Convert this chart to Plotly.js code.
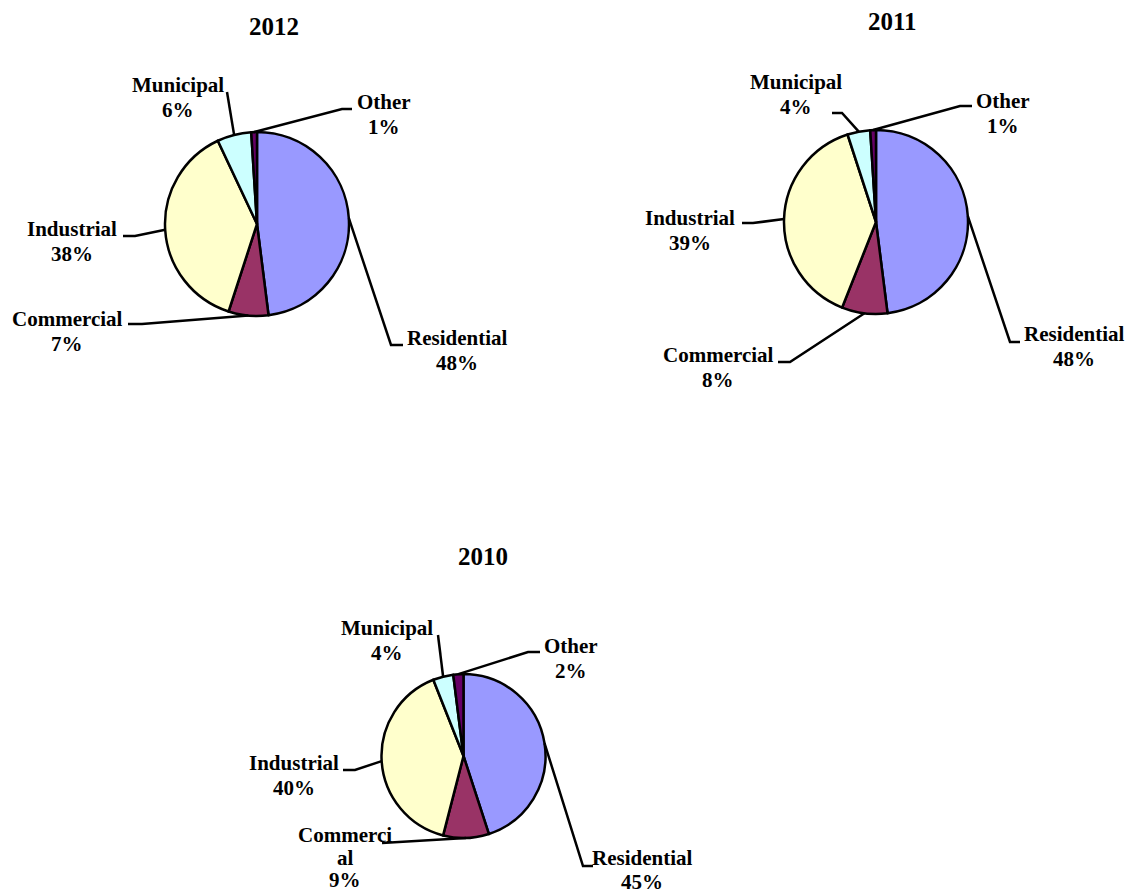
<!DOCTYPE html>
<html>
<head>
<meta charset="utf-8">
<script src="https://cdn.plot.ly/plotly-3.0.1.min.js"></script>
<style>html,body{margin:0;padding:0;background:#fff;}#chart{width:1129px;height:896px;}</style>
</head>
<body>
<div id="chart"></div>
<script>
// ---- data ----
const categories = ["Residential", "Commercial", "Industrial", "Municipal", "Other"];
const years = ["2012", "2011", "2010"];
const values2012 = [48, 7, 38, 6, 1];
const values2011 = [48, 8, 39, 4, 1];
const values2010 = [45, 9, 40, 4, 2];
const labels2010 = ["Residential", "Commerci<br>al", "Industrial", "Municipal", "Other"];
const colors = ["#9999FF", "#993366", "#FFFFCC", "#CCFFFF", "#660066"];

// ---- layout (pixel positions) ----
const W = 1129, H = 896;
const charts = [
  { year: years[0], values: values2012, names: categories,
    center: [257, 224], r: 92, titlePos: [273.5, 26.5], gaps: [25, 25, 25, 25, 25],
    labelPos: [[457, 338], [67, 319], [72, 229], [178, 85], [384, 102]],
    elbows: [[[403, 345], [391, 345]], [[128, 324], [142, 324]], [[123, 236], [135, 236]], [[227, 92]], [[352, 109], [342, 109]]] },
  { year: years[1], values: values2011, names: categories,
    center: [876, 222], r: 92, titlePos: [892, 21.5], gaps: [25, 25, 25, 25, 25],
    labelPos: [[1074, 334], [718, 355], [690, 218], [796, 82], [1003, 101]],
    elbows: [[[1020, 342], [1010, 342]], [[778, 362], [790, 362]], [[742, 223], [753, 223]], [[832, 113], [842, 113]], [[972, 106], [960, 106]]] },
  { year: years[2], values: values2010, names: labels2010,
    center: [463.5, 756], r: 82, titlePos: [483, 556.5], gaps: [24, 22.5, 25, 25, 25],
    labelPos: [[642, 858], [345, 835], [294, 763], [387, 628], [571, 646]],
    elbows: [[[593, 866], [583, 866]], [[382, 843]], [[343, 770], [355, 770]], [[438, 635]], [[540, 652], [528, 652]]] }
];

const px = x => x / W;
const py = y => 1 - y / H;
const family = "Liberation Serif, 'Times New Roman', serif";
const labelFont = { family: family, size: 21, color: "#000" };
const titleFont = { family: family, size: 25, color: "#000" };

const traces = [];
const annotations = [];
const shapes = [];

function addText(x, y, txt, font) {
  annotations.push({
    xref: "paper", yref: "paper", x: px(x), y: py(y),
    xanchor: "center", yanchor: "middle", showarrow: false, align: "center",
    text: "<b>" + txt + "</b>", font: font
  });
}

charts.forEach(ch => {
  const [cx, cy] = ch.center, r = ch.r;
  traces.push({
    type: "pie",
    values: ch.values,
    labels: categories,
    sort: false,
    direction: "clockwise",
    rotation: 0,
    textinfo: "none",
    hoverinfo: "label+percent",
    showlegend: false,
    marker: { colors: colors, line: { color: "#000", width: 2.5 } },
    domain: { x: [px(cx - r), px(cx + r)], y: [py(cy + r), py(cy - r)] }
  });
  addText(ch.titlePos[0], ch.titlePos[1], ch.year, titleFont);
  const total = ch.values.reduce((a, b) => a + b, 0);
  let cum = 0;
  ch.values.forEach((v, i) => {
    const mid = (cum + v / 2) / total;
    cum += v;
    const ang = mid * 2 * Math.PI;
    const ex = cx + r * Math.sin(ang), ey = cy - r * Math.cos(ang);
    const pts = ch.elbows[i].concat([[ex, ey]]);
    const path = pts.map((p, k) => (k === 0 ? "M " : "L ") + px(p[0]) + " " + py(p[1])).join(" ");
    shapes.push({ type: "path", xref: "paper", yref: "paper", path: path,
      line: { color: "#000", width: 2.5 } });
    const pct = Math.round(v / total * 100) + "%";
    const lines = ch.names[i].split("<br>").concat([pct]);
    lines.forEach((ln, k) => addText(ch.labelPos[i][0], ch.labelPos[i][1] + k * ch.gaps[i], ln, labelFont));
  });
});

const layout = {
  width: W, height: H,
  margin: { l: 0, r: 0, t: 0, b: 0 },
  paper_bgcolor: "#fff", plot_bgcolor: "#fff",
  showlegend: false,
  annotations: annotations,
  shapes: shapes
};

Plotly.newPlot("chart", traces, layout, { displayModeBar: false, staticPlot: true });
</script>
</body>
</html>
